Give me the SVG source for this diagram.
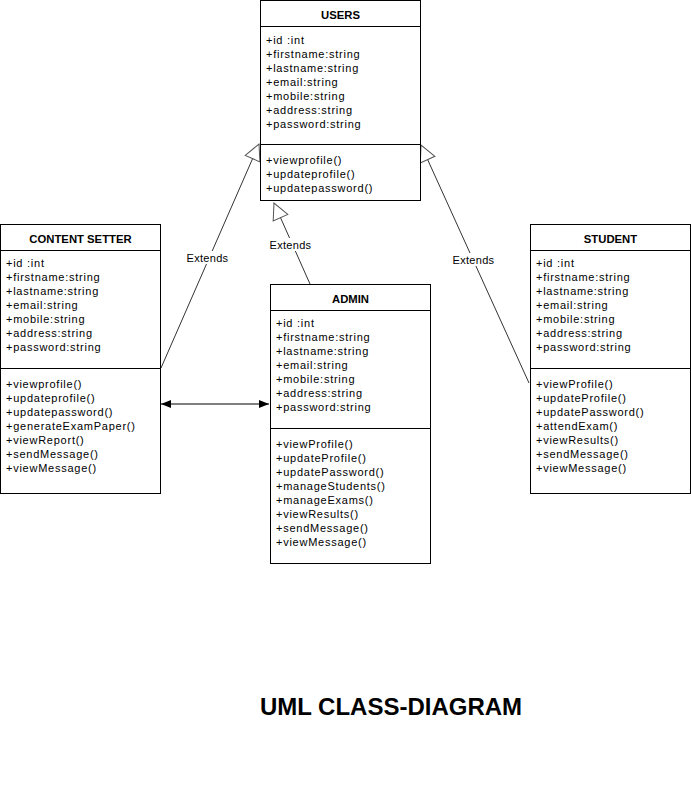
<svg xmlns="http://www.w3.org/2000/svg" width="691" height="808" viewBox="0 0 691 808">
<style>
.box{fill:#fff;stroke:#000;stroke-width:1}
.t{font-family:"Liberation Sans",Arial,sans-serif;font-size:11px;letter-spacing:0.75px;fill:#000}
.h{font-family:"Liberation Sans",Arial,sans-serif;font-size:11.3px;font-weight:bold;fill:#000;text-anchor:middle}
.lbl{font-family:"Liberation Sans",Arial,sans-serif;font-size:11px;letter-spacing:0.3px;fill:#000;text-anchor:middle}
.c{stroke:#333;stroke-width:1;fill:none}
</style>
<defs>
<marker id="tri" markerUnits="userSpaceOnUse" markerWidth="18" markerHeight="18" refX="17" refY="8" orient="auto" viewBox="0 0 18 16">
<path d="M1,0 L17,8 L1,16 Z" fill="#fff" stroke="#555" stroke-width="1"/>
</marker>
<marker id="fa" markerUnits="userSpaceOnUse" markerWidth="10" markerHeight="8" refX="10" refY="4" orient="auto-start-reverse" viewBox="0 0 10 8">
<path d="M0,0 L10,4 L0,8 Z" fill="#000"/>
</marker>
</defs>
<rect width="691" height="808" fill="#fff"/>

<g id="connectors">
<line class="c" x1="161" y1="368" x2="259" y2="144" marker-end="url(#tri)"/>
<line class="c" x1="310" y1="284" x2="274" y2="203" marker-end="url(#tri)"/>
<line class="c" x1="529" y1="383" x2="421" y2="145" marker-end="url(#tri)"/>
<line stroke="#000" stroke-width="1" x1="161" y1="404" x2="269" y2="404" marker-start="url(#fa)" marker-end="url(#fa)"/>
<rect x="187" y="251" width="41" height="13" fill="#fff"/>
<text class="lbl" x="207.5" y="262">Extends</text>
<rect x="270" y="238" width="41" height="13" fill="#fff"/>
<text class="lbl" x="290.5" y="249">Extends</text>
<rect x="453" y="253" width="41" height="13" fill="#fff"/>
<text class="lbl" x="473.5" y="264">Extends</text>
</g>

<g id="users">
<rect class="box" x="260.5" y="0.5" width="160" height="200"/>
<line stroke="#000" x1="260.5" y1="26.5" x2="420.5" y2="26.5"/>
<line stroke="#000" x1="260.5" y1="144.5" x2="420.5" y2="144.5"/>
<text class="h" x="340.5" y="19">USERS</text>
<text class="t" x="266" y="44">+id :int</text>
<text class="t" x="266" y="58">+firstname:string</text>
<text class="t" x="266" y="72">+lastname:string</text>
<text class="t" x="266" y="86">+email:string</text>
<text class="t" x="266" y="100">+mobile:string</text>
<text class="t" x="266" y="114">+address:string</text>
<text class="t" x="266" y="128">+password:string</text>
<text class="t" x="266" y="164">+viewprofile()</text>
<text class="t" x="266" y="178">+updateprofile()</text>
<text class="t" x="266" y="192">+updatepassword()</text>
</g>

<g id="content-setter">
<rect class="box" x="0.5" y="224.5" width="160" height="269"/>
<line stroke="#000" x1="0.5" y1="250.5" x2="160.5" y2="250.5"/>
<line stroke="#000" x1="0.5" y1="368.5" x2="160.5" y2="368.5"/>
<text class="h" x="80.5" y="243">CONTENT SETTER</text>
<text class="t" x="6" y="267">+id :int</text>
<text class="t" x="6" y="281">+firstname:string</text>
<text class="t" x="6" y="295">+lastname:string</text>
<text class="t" x="6" y="309">+email:string</text>
<text class="t" x="6" y="323">+mobile:string</text>
<text class="t" x="6" y="337">+address:string</text>
<text class="t" x="6" y="351">+password:string</text>
<text class="t" x="6" y="388">+viewprofile()</text>
<text class="t" x="6" y="402">+updateprofile()</text>
<text class="t" x="6" y="416">+updatepassword()</text>
<text class="t" x="6" y="430">+generateExamPaper()</text>
<text class="t" x="6" y="444">+viewReport()</text>
<text class="t" x="6" y="458">+sendMessage()</text>
<text class="t" x="6" y="472">+viewMessage()</text>
</g>

<g id="admin">
<rect class="box" x="270.5" y="284.5" width="160" height="279"/>
<line stroke="#000" x1="270.5" y1="310.5" x2="430.5" y2="310.5"/>
<line stroke="#000" x1="270.5" y1="428.5" x2="430.5" y2="428.5"/>
<text class="h" x="350.5" y="303">ADMIN</text>
<text class="t" x="276" y="327">+id :int</text>
<text class="t" x="276" y="341">+firstname:string</text>
<text class="t" x="276" y="355">+lastname:string</text>
<text class="t" x="276" y="369">+email:string</text>
<text class="t" x="276" y="383">+mobile:string</text>
<text class="t" x="276" y="397">+address:string</text>
<text class="t" x="276" y="411">+password:string</text>
<text class="t" x="276" y="448">+viewProfile()</text>
<text class="t" x="276" y="462">+updateProfile()</text>
<text class="t" x="276" y="476">+updatePassword()</text>
<text class="t" x="276" y="490">+manageStudents()</text>
<text class="t" x="276" y="504">+manageExams()</text>
<text class="t" x="276" y="518">+viewResults()</text>
<text class="t" x="276" y="532">+sendMessage()</text>
<text class="t" x="276" y="546">+viewMessage()</text>
</g>

<g id="student">
<rect class="box" x="530.5" y="224.5" width="160" height="269"/>
<line stroke="#000" x1="530.5" y1="250.5" x2="690.5" y2="250.5"/>
<line stroke="#000" x1="530.5" y1="368.5" x2="690.5" y2="368.5"/>
<text class="h" x="610.5" y="243">STUDENT</text>
<text class="t" x="536" y="267">+id :int</text>
<text class="t" x="536" y="281">+firstname:string</text>
<text class="t" x="536" y="295">+lastname:string</text>
<text class="t" x="536" y="309">+email:string</text>
<text class="t" x="536" y="323">+mobile:string</text>
<text class="t" x="536" y="337">+address:string</text>
<text class="t" x="536" y="351">+password:string</text>
<text class="t" x="536" y="388">+viewProfile()</text>
<text class="t" x="536" y="402">+updateProfile()</text>
<text class="t" x="536" y="416">+updatePassword()</text>
<text class="t" x="536" y="430">+attendExam()</text>
<text class="t" x="536" y="444">+viewResults()</text>
<text class="t" x="536" y="458">+sendMessage()</text>
<text class="t" x="536" y="472">+viewMessage()</text>
</g>

<text x="391" y="715" font-family="'Liberation Sans',Arial,sans-serif" font-size="24" font-weight="bold" text-anchor="middle" fill="#000">UML CLASS-DIAGRAM</text>
</svg>
